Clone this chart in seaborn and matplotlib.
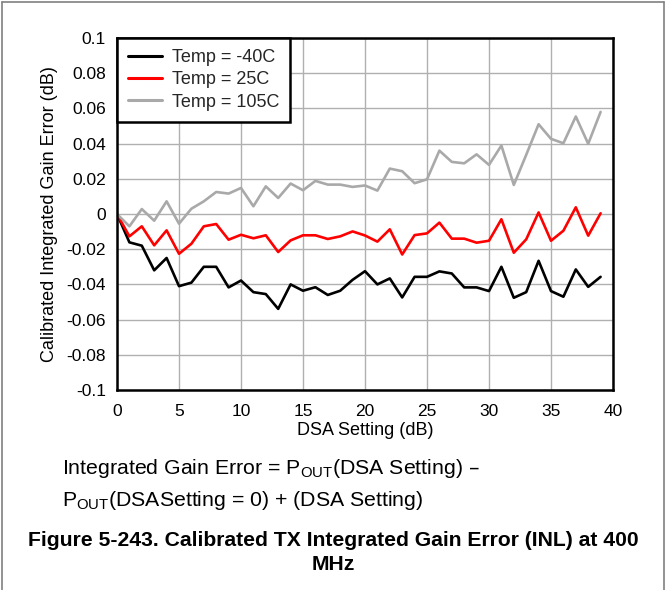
import numpy as np
import pandas as pd
import matplotlib
matplotlib.use("Agg")
import matplotlib.pyplot as plt
from matplotlib.lines import Line2D
import seaborn as sns

# DSA attenuation steps (dB)
dsa_setting = list(range(40))

# Calibrated integrated gain error (dB) per temperature
err_m40 = [0.0, -0.0161, -0.018, -0.032, -0.025, -0.041, -0.039, -0.030, -0.030, -0.0417,
           -0.0378, -0.0444, -0.0455, -0.0539, -0.040, -0.0436, -0.0416, -0.046, -0.0436, -0.0374,
           -0.0325, -0.040, -0.0366, -0.0474, -0.0357, -0.0357, -0.0326, -0.0338, -0.0417, -0.0417,
           -0.0438, -0.030, -0.0476, -0.0444, -0.0266, -0.0438, -0.047, -0.0315, -0.0414, -0.0357]
err_25 = [0.0, -0.0127, -0.007, -0.0178, -0.0093, -0.0226, -0.0169, -0.007, -0.0057, -0.0146,
          -0.0118, -0.0138, -0.0121, -0.0216, -0.015, -0.0121, -0.0121, -0.0142, -0.0127, -0.0099,
          -0.0122, -0.0157, -0.0087, -0.023, -0.012, -0.011, -0.0049, -0.014, -0.014, -0.0163,
          -0.0152, -0.003, -0.022, -0.0144, 0.0009, -0.0152, -0.0095, 0.0038, -0.0123, 0.0004]
err_105 = [0.0, -0.007, 0.0028, -0.0038, 0.0072, -0.0055, 0.003, 0.0072, 0.0125, 0.0116,
           0.0148, 0.0044, 0.0157, 0.0091, 0.0173, 0.0135, 0.0188, 0.0167, 0.0167, 0.0154,
           0.0162, 0.0133, 0.0258, 0.0243, 0.0175, 0.0197, 0.036, 0.0296, 0.0288, 0.0339,
           0.0279, 0.0389, 0.0165, 0.0336, 0.051, 0.0427, 0.0402, 0.0554, 0.0399, 0.058]

series_labels = ["Temp = -40C", "Temp = 25C", "Temp = 105C"]
series_colors = ["#000000", "#ff0000", "#a9a9a9"]

x_ticks = [0, 5, 10, 15, 20, 25, 30, 35, 40]
y_ticks = [0.1, 0.08, 0.06, 0.04, 0.02, 0, -0.02, -0.04, -0.06, -0.08, -0.1]
y_tick_labels = ["0.1", "0.08", "0.06", "0.04", "0.02", "0", "-0.02", "-0.04", "-0.06", "-0.08", "-0.1"]

df = pd.concat([
    pd.DataFrame({"dsa": dsa_setting, "err": vals, "temp": lab})
    for vals, lab in zip([err_m40, err_25, err_105], series_labels)
], ignore_index=True)

sns.set_theme(style="white")
plt.rcParams["font.family"] = ["Liberation Sans", "DejaVu Sans"]

fig = plt.figure(figsize=(6.66, 5.90), dpi=100)
ax = fig.add_axes([117 / 666, 1 - 390 / 590, (613 - 117) / 666, (390 - 38) / 590])

sns.lineplot(data=df, x="dsa", y="err", hue="temp", hue_order=series_labels,
             palette=series_colors, linewidth=1.9, ax=ax, legend=True)

ax.set_xlim(0, 40)
ax.set_ylim(-0.1, 0.1)
ax.set_xticks(x_ticks)
ax.set_xticklabels([str(t) for t in x_ticks])
ax.set_yticks(y_ticks)
ax.set_yticklabels(y_tick_labels)
ax.tick_params(axis="both", length=0, labelsize=12.5, colors="black")
ax.tick_params(axis="x", pad=10)
ax.tick_params(axis="y", pad=8)
ax.grid(True, color="#b0b0b0", linewidth=1.0)
ax.set_axisbelow(True)
for sp in ax.spines.values():
    sp.set_color("black")
    sp.set_linewidth(1.8)

ax.set_xlabel("DSA Setting (dB)", fontsize=13, color="black", labelpad=2)
ax.set_ylabel("Calibrated Integrated Gain Error (dB)", fontsize=13, color="black", labelpad=6)

leg = ax.legend(loc="upper left", fontsize=13, frameon=True, fancybox=False,
                borderaxespad=0, handlelength=1.9, handletextpad=0.55,
                labelspacing=0.3, borderpad=0.6)
leg.get_frame().set_edgecolor("black")
leg.get_frame().set_linewidth(1.8)
leg.get_frame().set_alpha(1)
for h in leg.get_lines():
    h.set_linewidth(2.2)

fig.text(62 / 666, 1 - 469 / 590,
         r"Integrated Gain Error = P$_{\mathregular{OUT}}$(DSA Setting) –",
         fontsize=15.3, color="black", va="center", ha="left")
fig.text(62 / 666, 1 - 500 / 590,
         r"P$_{\mathregular{OUT}}$(DSASetting = 0) + (DSA Setting)",
         fontsize=15.3, color="black", va="center", ha="left")
fig.text(0.5, 1 - 540 / 590,
         "Figure 5-243. Calibrated TX Integrated Gain Error (INL) at 400",
         fontsize=15.2, fontweight="bold", color="black", va="center", ha="center")
fig.text(0.5, 1 - 565 / 590, "MHz",
         fontsize=15.2, fontweight="bold", color="black", va="center", ha="center")

# page frame around the figure
frame_kw = dict(color="#808080", linewidth=1.2, transform=fig.transFigure)
fig.add_artist(Line2D([1.5 / 666, 1.5 / 666], [0, 1 - 2 / 590], **frame_kw))
fig.add_artist(Line2D([1.5 / 666, 664 / 666], [1 - 2 / 590, 1 - 2 / 590], **frame_kw))
fig.add_artist(Line2D([664 / 666, 664 / 666], [0, 1 - 2 / 590], **frame_kw))

fig.savefig("out.png", dpi=100)
